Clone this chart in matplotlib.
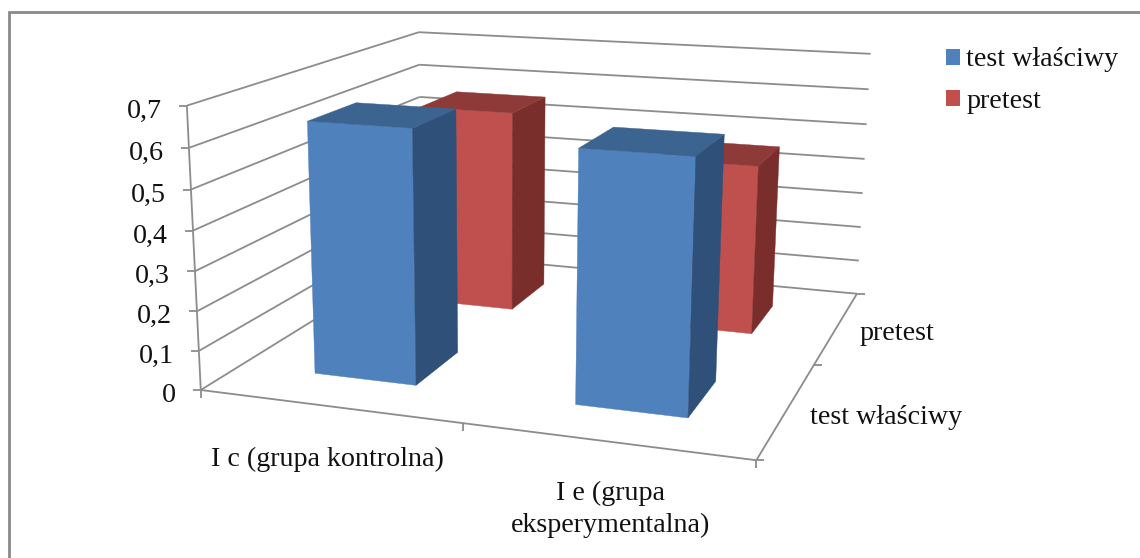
import numpy as np, matplotlib
matplotlib.use("Agg")
import matplotlib.pyplot as plt
from matplotlib.patches import Polygon, Patch

categories = ["I c (grupa kontrolna)", "I e (grupa\neksperymentalna)"]
series = ["test właściwy", "pretest"]
test_wlasciwy = [0.64, 0.62]
pretest = [0.56, 0.46]
y_ticks = [0, 0.1, 0.2, 0.3, 0.4, 0.5, 0.6, 0.7]
y_tick_labels = ["0", "0,1", "0,2", "0,3", "0,4", "0,5", "0,6", "0,7"]

FONT = "Liberation Serif"
FS = 20.2
GRID = "#8c8c8c"
ZMAX = 0.7
# front, side, top
FACES = [("#4F81BD", "#2F5078", "#3C6490"), ("#C0504D", "#7A2E2C", "#8E3A38")]

# perspective camera fitted to the reference's plot box: box corner -> pixel
camera = [((0,0,0),(201,388)), ((1,0,0),(757,461)), ((1,1,0),(857,293)), ((0,1,0),(421,255)),
          ((0,0,1),(186,107)), ((0,1,1),(420,31)), ((1,1,1),(870,54))]
A, b = [], []
for (x,y,z),(u,v) in camera:
    A.append([x,y,z,1,0,0,0,0,-u*x,-u*y,-u*z]); b.append(u)
    A.append([0,0,0,0,x,y,z,1,-v*x,-v*y,-v*z]); b.append(v)
P = np.append(np.linalg.lstsq(np.array(A,float), np.array(b,float), rcond=None)[0], 1).reshape(3,4)

def proj(x, y, value):
    h = P @ np.array([x, y, value/ZMAX, 1.0])
    return h[:2]/h[2]

fig = plt.figure(figsize=(11.4,5.58), dpi=100, facecolor="white")
ax = fig.add_axes([0,0,1,1])
ax.set_xlim(0,1140); ax.set_ylim(558,0); ax.axis("off")

def seg(p, q, lw=1.3, color=GRID, z=1):
    ax.plot([p[0],q[0]],[p[1],q[1]],color=color,lw=lw,solid_capstyle="butt",zorder=z)

# frame
ax.plot([8.5,8.5,1140],[558,11.5,11.5],color="#8a8a8a",lw=2.0,solid_joinstyle="miter",zorder=1)

# walls and floor
for t, lab in zip(y_ticks, y_tick_labels):
    a, m, e = proj(0,0,t), proj(0,1,t), proj(1,1,t)
    seg(a,m); seg(m,e)
    seg(a, a+np.array([-8,0]))
    ax.text(a[0]-25, a[1]+5.5, lab, ha="right", va="center", family=FONT, fontsize=FS, color="#111")
seg(proj(0,0,0), proj(0,0,ZMAX))
seg(proj(0,0,0), proj(1,0,0))
seg(proj(1,0,0), proj(1,1,0))
for c in (0,0.5,1):
    p = proj(c,0,0); seg(p, p+np.array([0,8]))
for d in (0,0.5,1):
    p = proj(1,d,0); seg(p, p+np.array([8,0]))

# bars: back row first
def bar(x0, x1, y0, y1, val, cols, z):
    f = [proj(x0,y0,0),proj(x1,y0,0),proj(x1,y0,val),proj(x0,y0,val)]
    s = [proj(x1,y0,0),proj(x1,y1,0),proj(x1,y1,val),proj(x1,y0,val)]
    t = [proj(x0,y0,val),proj(x1,y0,val),proj(x1,y1,val),proj(x0,y1,val)]
    for poly,c in zip((f,s,t),cols):
        ax.add_patch(Polygon(poly,closed=True,fc=c,ec=c,lw=0.3,zorder=z))

for k,(vals,cols,(y0,y1)) in enumerate(zip((pretest,test_wlasciwy),(FACES[1],FACES[0]),((0.65,0.85),(0.15,0.35)))):
    for i,v in enumerate(vals):
        bar(0.15+0.5*i, 0.35+0.5*i, y0, y1, v, cols, 2+k+i*0.1)

# category and depth labels
txt = dict(family=FONT, fontsize=FS, color="#111", linespacing=1.4)
ax.text(327,459,categories[0],ha="center",va="center",**txt)
ax.text(611,509.5,categories[1],ha="center",va="center",**txt)
ax.text(860,333,series[1],ha="left",va="center",**txt)
ax.text(810,417,series[0],ha="left",va="center",**txt)

# legend
ax.legend(handles=[Patch(fc=FACES[0][0],label=series[0]),Patch(fc=FACES[1][0],label=series[1])],
          loc="upper left",bbox_to_anchor=(946/1140,1-47.5/558),frameon=False,
          prop=dict(family=FONT,size=FS),handlelength=0.5,handleheight=0.5,handletextpad=0.22,
          labelspacing=0.58,borderpad=0,borderaxespad=0,labelcolor="#111")
fig.savefig("out.png",dpi=100)
